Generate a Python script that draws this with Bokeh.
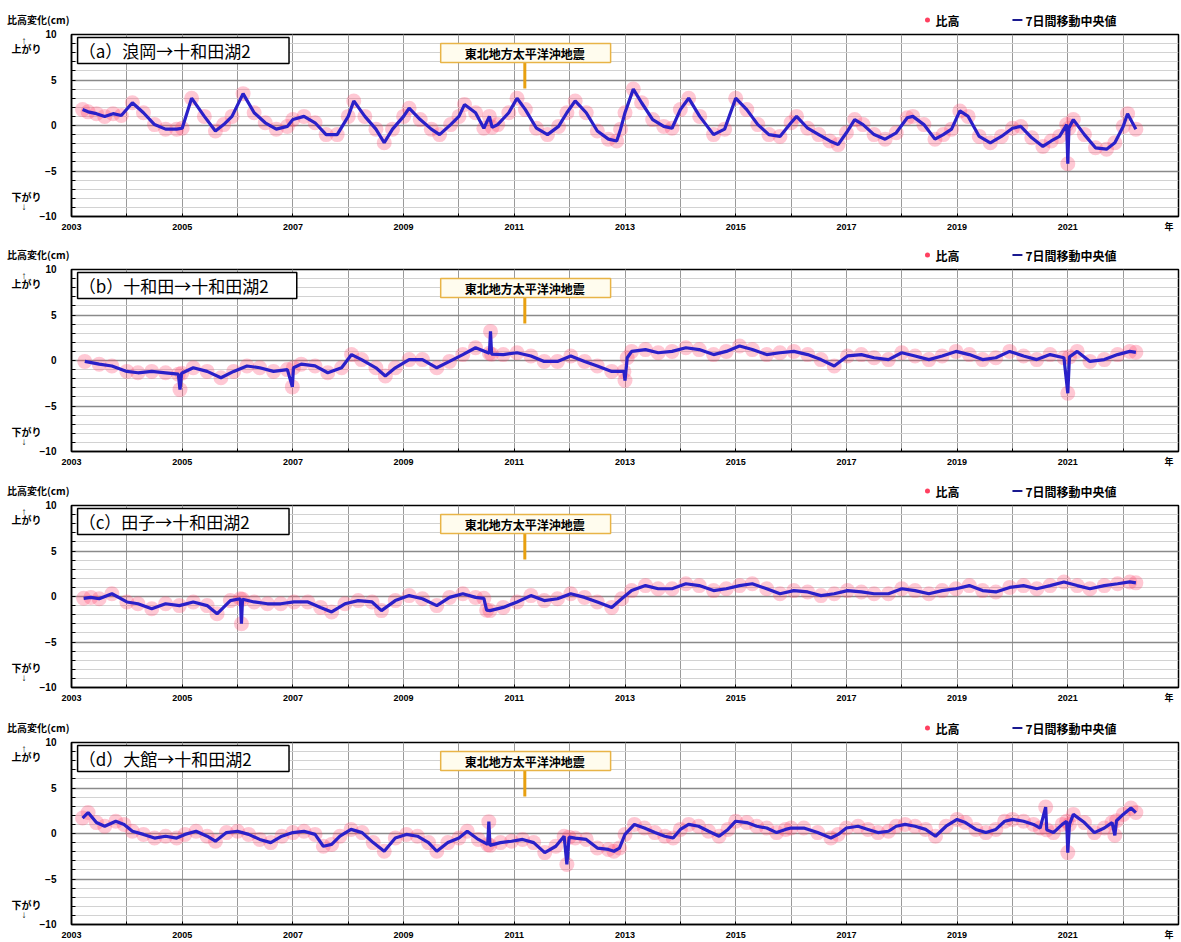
from bokeh.plotting import figure
from bokeh.layouts import column
from bokeh.models import Range1d, FixedTicker, Label, BoxAnnotation
from bokeh.embed import file_html
from bokeh.resources import INLINE

# ---------------- data ----------------
ODD_YEARS = [2003, 2005, 2007, 2009, 2011, 2013, 2015, 2017, 2019, 2021]
ALL_YEARS = list(range(2003, 2024))
YEAR_UNIT_TICK = 2022.83       # position of the "年" unit label
Y_MAJOR = [-10, -5, 0, 5, 10]
Y_MINOR = list(range(-10, 11))
UP_POS, UP_ARROW_POS = 8.4, 9.3        # "上がり" side note
DOWN_POS, DOWN_ARROW_POS = -7.9, -8.9  # "下がり" side note
EARTHQUAKE = 2011.19  # 2011-03-11

TITLES = ["（a）浪岡→十和田湖2", "（b）十和田→十和田湖2", "（c）田子→十和田湖2", "（d）大館→十和田湖2"]

a_t = [2003.2, 2003.3, 2003.45, 2003.6, 2003.75, 2003.9, 2004.1, 2004.3, 2004.5, 2004.7, 2004.9, 2005.0,
       2005.17, 2005.4, 2005.6, 2005.75, 2005.9, 2006.1, 2006.3, 2006.5, 2006.7, 2006.9, 2007.0, 2007.2,
       2007.4, 2007.6, 2007.8, 2008.0, 2008.1, 2008.3, 2008.5, 2008.65, 2008.8, 2009.0, 2009.1, 2009.3,
       2009.5, 2009.65, 2009.85, 2010.0, 2010.1, 2010.3, 2010.45, 2010.55, 2010.6, 2010.7, 2010.9, 2011.05,
       2011.2, 2011.4, 2011.6, 2011.8, 2011.95, 2012.1, 2012.3, 2012.5, 2012.7, 2012.85, 2012.92, 2013.0,
       2013.15, 2013.3, 2013.5, 2013.7, 2013.85, 2014.0, 2014.15, 2014.35, 2014.6, 2014.8, 2015.0, 2015.2,
       2015.4, 2015.6, 2015.8, 2016.0, 2016.1, 2016.3, 2016.5, 2016.7, 2016.85, 2017.0, 2017.15, 2017.3,
       2017.5, 2017.7, 2017.9, 2018.1, 2018.2, 2018.4, 2018.6, 2018.75, 2018.9, 2019.05, 2019.2, 2019.4,
       2019.6, 2019.8, 2020.0, 2020.15, 2020.35, 2020.55, 2020.7, 2020.85, 2020.98, 2021.0, 2021.02,
       2021.1, 2021.3, 2021.5, 2021.7, 2021.85, 2022.0, 2022.08, 2022.23]
a_v = [1.75, 1.5, 1.3, 1.0, 1.3, 1.1, 2.5, 1.4, 0.1, -0.4, -0.4, -0.3,
       3.0, 1.0, -0.6, 0.1, 1.0, 3.5, 1.4, 0.3, -0.4, -0.1, 0.65, 1.0,
       0.3, -1.0, -1.0, 1.0, 2.7, 1.0, -0.4, -1.9, -0.4, 1.0, 1.9, 0.65,
       -0.4, -1.0, 0.1, 1.0, 2.3, 1.4, -0.3, 1.0, -0.2, 0.1, 1.4, 3.0,
       1.75, -0.3, -1.0, -0.1, 1.4, 2.7, 1.4, -0.6, -1.5, -1.7, -0.4, 1.4,
       4.0, 2.5, 0.65, -0.1, -0.3, 1.75, 3.0, 1.0, -1.0, -0.4, 3.0, 1.75,
       0.1, -1.0, -1.2, 0.3, 1.0, -0.3, -1.0, -1.7, -2.1, -0.8, 0.65, 0.1,
       -1.0, -1.5, -0.8, 0.85, 1.0, 0.1, -1.5, -1.0, -0.4, 1.6, 1.0, -1.2,
       -1.9, -1.2, -0.3, -0.1, -1.35, -2.3, -1.7, -1.2, 0.1, -4.2, -0.3,
       0.65, -1.0, -2.45, -2.6, -1.9, -0.1, 1.3, -0.4]

b_t = [2003.24, 2003.5, 2003.73, 2004.0, 2004.2, 2004.45, 2004.7, 2004.93, 2004.96, 2004.99, 2005.2, 2005.45,
       2005.7, 2005.93, 2006.17, 2006.4, 2006.65, 2006.9, 2006.99, 2007.01, 2007.15, 2007.4, 2007.63, 2007.88,
       2008.06, 2008.24, 2008.5, 2008.67, 2008.85, 2009.1, 2009.34, 2009.6, 2009.83, 2010.07, 2010.3, 2010.55,
       2010.57, 2010.59, 2010.8, 2011.05, 2011.3, 2011.54, 2011.78, 2012.02, 2012.27, 2012.5, 2012.76, 2012.98,
       2013.0, 2013.04, 2013.12, 2013.37, 2013.6, 2013.85, 2014.1, 2014.34, 2014.6, 2014.83, 2015.07, 2015.3,
       2015.56, 2015.8, 2016.05, 2016.3, 2016.54, 2016.78, 2017.02, 2017.27, 2017.5, 2017.76, 2018.0, 2018.24,
       2018.49, 2018.73, 2018.98, 2019.22, 2019.46, 2019.7, 2019.95, 2020.2, 2020.44, 2020.68, 2020.93, 2021.0,
       2021.03, 2021.17, 2021.4, 2021.66, 2021.9, 2022.12, 2022.23]
b_v = [-0.1, -0.4, -0.6, -1.2, -1.35, -1.2, -1.35, -1.5, -3.2, -1.4, -0.8, -1.2,
       -1.9, -1.2, -0.6, -0.8, -1.2, -1.0, -2.9, -0.8, -0.4, -0.6, -1.35, -0.8,
       0.65, 0.1, -0.8, -1.7, -0.8, 0.1, 0.1, -0.8, -0.1, 0.65, 1.4, 0.8,
       3.2, 0.7, 0.65, 0.85, 0.5, -0.1, -0.1, 0.5, -0.1, -0.6, -1.2, -1.2,
       -2.2, 0.3, 1.0, 1.2, 0.85, 1.0, 1.4, 1.2, 0.65, 1.0, 1.6, 1.2,
       0.65, 0.85, 1.0, 0.65, 0.1, -0.6, 0.5, 0.65, 0.3, 0.1, 0.85, 0.5,
       0.1, 0.5, 1.0, 0.65, 0.1, 0.3, 1.0, 0.5, 0.1, 0.65, 0.3, -3.6,
       0.4, 1.0, -0.1, 0.1, 0.65, 1.0, 0.9]

c_t = [2003.22, 2003.35, 2003.5, 2003.73, 2004.0, 2004.2, 2004.45, 2004.7, 2004.95, 2005.2, 2005.45, 2005.63,
       2005.87, 2006.05, 2006.07, 2006.09, 2006.3, 2006.54, 2006.78, 2007.02, 2007.27, 2007.5, 2007.7, 2007.94,
       2008.18, 2008.43, 2008.6, 2008.85, 2009.1, 2009.34, 2009.6, 2009.83, 2010.07, 2010.3, 2010.45, 2010.5,
       2010.56, 2010.8, 2011.05, 2011.3, 2011.54, 2011.78, 2012.02, 2012.27, 2012.5, 2012.76, 2012.94, 2013.12,
       2013.37, 2013.6, 2013.85, 2014.1, 2014.34, 2014.6, 2014.83, 2015.07, 2015.3, 2015.56, 2015.8, 2016.05,
       2016.3, 2016.54, 2016.78, 2017.02, 2017.27, 2017.5, 2017.76, 2018.0, 2018.24, 2018.49, 2018.73, 2018.98,
       2019.22, 2019.46, 2019.7, 2019.95, 2020.2, 2020.44, 2020.68, 2020.93, 2021.17, 2021.4, 2021.66, 2021.9,
       2022.12, 2022.23]
c_v = [-0.2, -0.1, -0.25, 0.3, -0.6, -0.8, -1.35, -0.8, -1.0, -0.6, -1.0, -1.9,
       -0.45, -0.25, -3.0, -0.3, -0.6, -0.8, -0.8, -0.6, -0.6, -1.2, -1.7, -0.8,
       -0.45, -0.6, -1.55, -0.45, 0.1, -0.25, -1.0, -0.1, 0.3, -0.1, -0.2, -1.5,
       -1.55, -1.2, -0.6, 0.1, -0.45, -0.25, 0.3, -0.1, -0.6, -1.2, -0.25, 0.65,
       1.2, 0.85, 0.85, 1.4, 1.2, 0.65, 0.85, 1.2, 1.4, 0.85, 0.3, 0.65,
       0.5, 0.1, 0.3, 0.65, 0.5, 0.3, 0.3, 0.85, 0.65, 0.3, 0.65, 0.85,
       1.2, 0.65, 0.5, 1.0, 1.2, 0.85, 1.2, 1.6, 1.2, 0.85, 1.2, 1.4,
       1.6, 1.5]

d_t = [2003.2, 2003.3, 2003.45, 2003.6, 2003.8, 2003.95, 2004.1, 2004.3, 2004.5, 2004.7, 2004.9, 2005.05,
       2005.25, 2005.45, 2005.6, 2005.8, 2006.0, 2006.2, 2006.4, 2006.6, 2006.8, 2007.0, 2007.2, 2007.4,
       2007.55, 2007.7, 2007.85, 2008.05, 2008.25, 2008.45, 2008.65, 2008.85, 2009.05, 2009.25, 2009.45, 2009.6,
       2009.8, 2010.0, 2010.15, 2010.35, 2010.52, 2010.54, 2010.56, 2010.75, 2010.95, 2011.15, 2011.35, 2011.55,
       2011.75, 2011.9, 2011.95, 2011.99, 2012.1, 2012.3, 2012.5, 2012.7, 2012.8, 2012.9, 2013.0, 2013.17,
       2013.35, 2013.54, 2013.72, 2013.87, 2014.0, 2014.15, 2014.33, 2014.51, 2014.7, 2014.86, 2015.0, 2015.2,
       2015.38, 2015.56, 2015.74, 2015.9, 2016.0, 2016.23, 2016.48, 2016.72, 2016.85, 2017.0, 2017.21, 2017.39,
       2017.57, 2017.76, 2017.9, 2018.06, 2018.24, 2018.43, 2018.61, 2018.8, 2019.0, 2019.15, 2019.34, 2019.52,
       2019.7, 2019.86, 2020.0, 2020.2, 2020.38, 2020.5, 2020.6, 2020.62, 2020.74, 2020.9, 2020.98, 2021.0,
       2021.03, 2021.1, 2021.3, 2021.48, 2021.66, 2021.8, 2021.85, 2021.88, 2022.0, 2022.14, 2022.23]
d_v = [1.7, 2.3, 1.2, 0.8, 1.35, 1.0, 0.25, -0.1, -0.5, -0.3, -0.5, -0.1,
       0.25, -0.3, -0.85, 0.1, 0.25, -0.1, -0.65, -1.0, -0.3, 0.1, 0.25, -0.1,
       -1.4, -1.2, -0.3, 0.45, 0.1, -1.0, -1.95, -0.5, -0.1, -0.3, -1.0, -1.95,
       -1.0, -0.5, 0.25, -0.65, -1.2, 1.3, -1.3, -1.0, -0.85, -0.65, -1.0, -2.1,
       -1.4, -0.3, -3.4, -0.4, -0.5, -0.65, -1.6, -1.75, -1.95, -1.6, -0.1, 1.0,
       0.6, 0.1, -0.3, -0.5, 0.45, 1.0, 0.8, 0.25, -0.3, 0.45, 1.35, 1.2,
       0.8, 0.6, 0.1, 0.45, 0.6, 0.6, 0.1, -0.5, -0.1, 0.6, 0.8, 0.45,
       0.1, 0.25, 0.8, 1.0, 0.8, 0.45, -0.3, 0.8, 1.55, 1.2, 0.45, 0.1,
       0.45, 1.35, 1.55, 1.35, 1.0, 0.6, 2.9, 0.4, 0.1, 1.0, 1.35, -2.1,
       1.0, 2.1, 1.2, 0.1, 0.6, 1.2, -0.2, 1.4, 2.1, 2.8, 2.3]

SERIES = [(a_t, a_v), (b_t, b_v), (c_t, c_v), (d_t, d_v)]
BOX_RIGHT = [2006.93, 2007.07, 2006.93, 2006.93]

# ---------------- layout ----------------
W = 1181
LEFT, RIGHT = 71, 3
HEAD_H = [28, 22, 22, 23]          # header strip (title + legend) above each panel
MAIN_H = [213, 214, 214, 206]
MAIN_TOP = 6
BOTTOMS = [25, 26, 26, 18]
TITLE_Y = 9
LEGEND_Y = 8.5

JP = "Noto Sans CJK JP"
NUM = "'Liberation Sans', 'Noto Sans CJK JP'"


def lab(p, x, y, text, size="10px", color="black", bold=True, align="left", font=JP):
    p.add_layout(Label(x=x, y=y, text=text, text_font=font, text_font_size=size,
                       text_font_style="bold" if bold else "normal", text_color=color,
                       text_align=align, text_baseline="middle"))


def header(i):
    h = figure(width=W, height=HEAD_H[i], x_range=Range1d(2003, 2023), y_range=Range1d(0, HEAD_H[i]),
               x_axis_type=None, output_backend="svg", toolbar_location=None,
               min_border_left=LEFT, min_border_right=RIGHT, min_border_top=0, min_border_bottom=0)
    h.outline_line_color = None
    h.background_fill_color = "white"
    h.grid.visible = False
    # the "比高変化(cm)" heading sits left of the frame: carried by the header's y axis
    ax = h.yaxis[0]
    ax.ticker = FixedTicker(ticks=[TITLE_Y], minor_ticks=[])
    ax.major_label_overrides = {TITLE_Y: "比高変化(cm)"}
    ax.axis_line_color = None
    ax.major_tick_line_color = None
    ax.minor_tick_line_color = None
    ax.major_label_standoff = -4
    ax.major_label_text_font = JP
    ax.major_label_text_font_size = "10px"
    ax.major_label_text_font_style = "bold"
    ax.major_label_text_color = "black"
    # legend: red dot = 比高, blue dash = 7日間移動中央値
    h.scatter(x=[2018.465], y=[LEGEND_Y], size=5, fill_color="#ff4060", line_color=None)
    lab(h, 2018.61, LEGEND_Y, "比高", size="12px")
    h.segment(x0=[2020.0], y0=[LEGEND_Y], x1=[2020.18], y1=[LEGEND_Y], line_color="#1a1a90", line_width=2)
    lab(h, 2020.235, LEGEND_Y, "7日間移動中央値", size="12px")
    return h


def panel(i):
    t, v = SERIES[i]
    p = figure(width=W, height=MAIN_H[i], x_range=Range1d(2003, 2023), y_range=Range1d(-10, 10),
               output_backend="svg", toolbar_location=None,
               min_border_left=LEFT, min_border_right=RIGHT, min_border_top=MAIN_TOP,
               min_border_bottom=BOTTOMS[i])
    p.outline_line_color = "black"
    p.outline_line_width = 1.5
    p.outline_line_alpha = 1.0
    p.background_fill_color = "white"

    # x axis: odd-year labels, every year a tick, plus the unit "年"
    p.xaxis.ticker = FixedTicker(ticks=ODD_YEARS + [YEAR_UNIT_TICK], minor_ticks=ALL_YEARS)
    p.xaxis.major_label_overrides = {YEAR_UNIT_TICK: "年"}
    p.xgrid.ticker = FixedTicker(ticks=ODD_YEARS, minor_ticks=ALL_YEARS)

    # y axis: numbers plus the 上がり / 下がり side notes
    p.yaxis.ticker = FixedTicker(ticks=Y_MAJOR + [UP_POS, UP_ARROW_POS, DOWN_POS, DOWN_ARROW_POS],
                                 minor_ticks=Y_MINOR)
    p.yaxis.major_label_overrides = {
        UP_POS: "上がり\u3000\u2002", UP_ARROW_POS: "↑\u3000\u3000\u3000",
        DOWN_POS: "下がり\u3000\u2002", DOWN_ARROW_POS: "↓\u3000\u3000\u3000",
        -10: "−10", -5: "−5",
    }
    p.ygrid.ticker = FixedTicker(ticks=Y_MAJOR, minor_ticks=Y_MINOR)

    p.xgrid.grid_line_color = "#9a9a9a"
    p.xgrid.minor_grid_line_color = "#9a9a9a"
    p.xgrid.grid_line_width = 1
    p.ygrid.grid_line_color = "#8a8a8a"
    p.ygrid.grid_line_width = 1.5
    p.ygrid.minor_grid_line_color = "#d2d2d2"

    for ax in (p.xaxis, p.yaxis):
        ax.axis_line_color = "black"
        ax.axis_line_width = 1.5
        ax.major_tick_in = 0
        ax.major_tick_out = 0
        ax.minor_tick_out = 0
        ax.minor_tick_line_color = "black"
        ax.major_label_text_font = NUM
        ax.major_label_text_font_style = "bold"
        ax.major_label_text_color = "black"
    p.xaxis.minor_tick_in = 3
    p.xaxis.major_label_text_font_size = "9px"
    p.xaxis.major_label_standoff = 5
    p.yaxis.minor_tick_in = 4
    p.yaxis.major_label_text_font_size = "10px"
    p.yaxis.major_label_standoff = 15

    # data
    p.scatter(t, v, size=15, fill_color="#ff4a72", line_color=None, fill_alpha=0.3)
    p.line(t, v, line_color="#2a20c8", line_width=3.2)

    # station label box
    p.add_layout(BoxAnnotation(left=2003.11, right=BOX_RIGHT[i], bottom=6.81, top=9.67,
                               fill_color="white", fill_alpha=1.0, line_color="black",
                               line_width=1.5, line_alpha=1.0))
    lab(p, 2003.13, 8.25, TITLES[i], size="17px", bold=False)

    # earthquake annotation
    p.add_layout(BoxAnnotation(left=2009.67, right=2012.74, bottom=6.92, top=9.01,
                               fill_color="#fffcee", fill_alpha=1.0, line_color="#e8b447",
                               line_width=1.5, line_alpha=1.0))
    lab(p, EARTHQUAKE, 7.96, "東北地方太平洋沖地震", size="12px", align="center")
    p.segment(x0=[EARTHQUAKE], y0=[6.92], x1=[EARTHQUAKE], y1=[4.07], line_color="#e8a010", line_width=3)
    return p


children = []
for i in range(4):
    children.append(header(i))
    children.append(panel(i))
layout = column(*children, spacing=0)
open("out.html", "w").write(file_html(layout, INLINE))
